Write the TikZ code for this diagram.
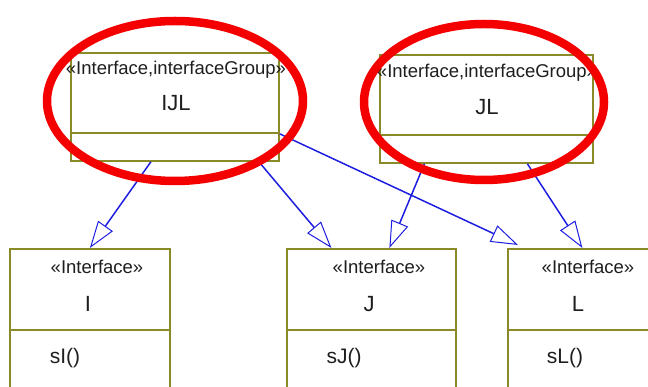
\documentclass[tikz,border=0pt]{standalone}
\usepackage{fontspec}
\setmainfont{Liberation Sans}
\usetikzlibrary{arrows.meta}
\definecolor{boxline}{RGB}{138,138,40}
\definecolor{linkblue}{RGB}{30,30,225}
\definecolor{markred}{RGB}{245,0,0}
\definecolor{ink}{RGB}{30,30,30}
\tikzset{
  classbox/.style={draw=boxline, line width=1.8pt, fill=white, inner sep=0pt, anchor=north west},
  divider/.style={draw=boxline, line width=1.8pt},
  stereo/.style={font=\fontsize{18.5}{20}\selectfont, text=ink, inner sep=0pt},
  cname/.style={font=\fontsize{22}{24}\selectfont, text=ink, inner sep=0pt},
  opname/.style={font=\fontsize{21}{23}\selectfont, text=ink, inner sep=0pt},
  realize/.style={draw=linkblue, line width=1.5pt,
    -{Triangle[open, length=27pt, width=18pt, line width=1pt, fill=white]}},
  highlight/.style={draw=markred, line width=8.5pt}
}
\begin{document}
\begin{tikzpicture}[x=1pt,y=-1pt]
\useasboundingbox (0,0) rectangle (648,387);
\clip (0,0) rectangle (648,387);

% interface-group classes
\node[classbox, minimum width=208pt, minimum height=108pt] (ijl) at (70,52) {};
\draw[divider] (70,133) -- (278,133);
\node[stereo] (ijls) at (176,70) {«Interface,interfaceGroup»};
\node[cname] (ijln) at (176,103) {IJL};

\node[classbox, minimum width=213pt, minimum height=108pt] (jl) at (379,54) {};
\draw[divider] (379,135) -- (592,135);
\node[stereo] (jls) at (487,73) {«Interface,interfaceGroup»};
\node[cname] (jln) at (487,107) {JL};

% plain interfaces
\node[classbox, minimum width=160pt, minimum height=160pt] (i) at (9,248) {};
\draw[divider] (9,330) -- (169,330);
\node[stereo] (is) at (97,267) {«Interface»};
\node[cname] (in) at (88,304) {I};
\node[opname] (io) at (65,358) {sI()};

\node[classbox, minimum width=169pt, minimum height=160pt] (j) at (286,248) {};
\draw[divider] (286,330) -- (455,330);
\node[stereo] (js) at (379,267) {«Interface»};
\node[cname] (jn) at (369,304) {J};
\node[opname] (jo) at (344,358) {sJ()};

\node[classbox, minimum width=165pt, minimum height=160pt] (l) at (507,248) {};
\draw[divider] (507,330) -- (672,330);
\node[stereo] (ls) at (588,267) {«Interface»};
\node[cname] (ln) at (578,304) {L};
\node[opname] (lo) at (565,358) {sL()};

% realization links
\draw[realize] ([xshift=-24pt]ijl.south) -- (i.north);
\draw[realize] ([xshift=84pt]ijl.south) -- ([xshift=-40pt]j.north);
\draw[realize] ([yshift=-27pt]ijl.east) -- ([xshift=11pt,yshift=3pt]l.north west);
\draw[realize] ([xshift=-62pt]jl.south) -- ([xshift=18pt]j.north);
\draw[realize] ([xshift=41pt]jl.south) -- ([xshift=-8pt]l.north);

% red highlight rings
\draw[highlight] (175,101) ellipse [x radius=128pt, y radius=80pt];
\draw[highlight] (484,102) ellipse [x radius=120pt, y radius=78pt];
\end{tikzpicture}
\end{document}
